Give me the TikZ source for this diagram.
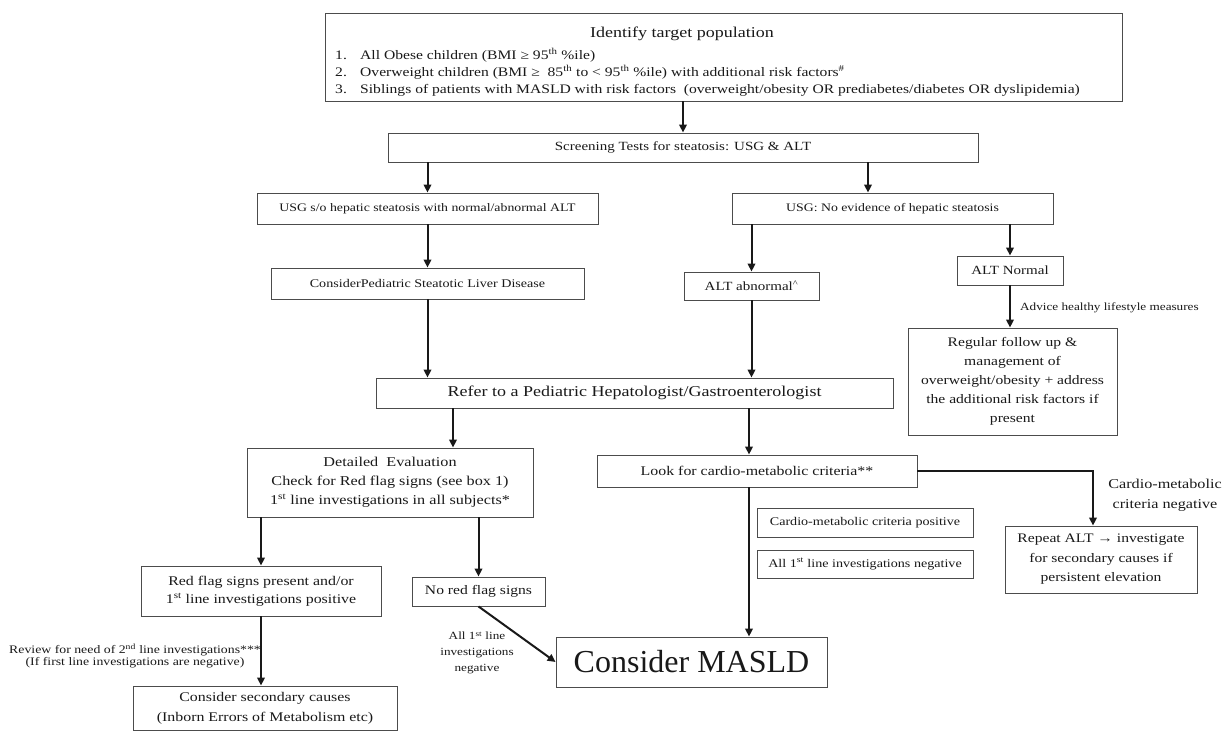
\documentclass[tikz,border=0pt]{standalone}
\usepackage{fontspec}
\setmainfont[FakeStretch=1.2]{Liberation Serif}
\newfontfamily\plainserif{Liberation Serif}
\usetikzlibrary{arrows.meta,calc}
\newcommand{\fsz}[2]{\fontsize{#1}{#2}\selectfont}
\begin{document}
\begin{tikzpicture}[x=1pt,y=-1pt,
  box/.style={draw=black!70, line width=0.9pt, fill=white, inner sep=2pt, align=center, text=black!90},
  arr/.style={line width=2pt, draw=black!90, -{Triangle[length=8pt,width=7.5pt]}},
  lab/.style={align=center, inner sep=0pt, text=black!90}]
\useasboundingbox (0,0) rectangle (1227,732);

% top box
\node[box, minimum width=797pt, minimum height=88pt] (top) at (723.5,57) {};
\node[lab, font=\fsz{15}{18}, anchor=base] (ttl) at (682,37) {Identify target population};
\node[lab, font=\fsz{13}{16}, anchor=base west] (n1) at (335,59) {1.};
\node[lab, font=\fsz{13}{16}, anchor=base west] (i1) at (360,59) {All Obese children (BMI ≥ 95\textsuperscript{th} \%ile)};
\node[lab, font=\fsz{13}{16}, anchor=base west] (n2) at (335,76) {2.};
\node[lab, font=\fsz{13}{16}, anchor=base west] (i2) at (360,76) {Overweight children (BMI ≥ \ 85\textsuperscript{th} to < 95\textsuperscript{th} \%ile) with additional risk factors\textsuperscript{\#}};
\node[lab, font=\fsz{13}{16}, anchor=base west] (n3) at (335,93) {3.};
\node[lab, font=\fsz{13}{16}, anchor=base west] (i3) at (360,93) {Siblings of patients with MASLD with risk factors \ (overweight/obesity OR prediabetes/diabetes OR dyslipidemia)};

\node[box, minimum width=590pt, minimum height=29pt, font=\fsz{12.5}{15}] (screen) at (683,147.5) {Screening Tests for steatosis: USG \& ALT};
\node[box, minimum width=341pt, minimum height=31pt, font=\fsz{11.5}{14}] (usgL) at (427.5,208.5) {USG s/o hepatic steatosis with normal/abnormal ALT};
\node[box, minimum width=321pt, minimum height=31pt, font=\fsz{11.5}{14}] (usgR) at (892.5,208.5) {USG: No evidence of hepatic steatosis};
\node[box, minimum width=313pt, minimum height=31pt, font=\fsz{11.75}{14}] (psld) at (427.5,283.5) {ConsiderPediatric Steatotic Liver Disease};
\node[box, minimum width=135pt, minimum height=28pt, font=\fsz{12.5}{15}] (altab) at (751.5,286) {ALT abnormal\textsuperscript{\^{}}};
\node[box, minimum width=106pt, minimum height=29pt, font=\fsz{12.5}{15}] (altn) at (1010,270.5) {ALT Normal};
\node[box, minimum width=209pt, minimum height=107pt, font=\fsz{13}{19}] (regular) at (1012.5,381.5) {Regular follow up \&\\ management of\\ overweight/obesity + address\\ the additional risk factors if\\ present};
\node[box, minimum width=517pt, minimum height=30pt, font=\fsz{15}{18}] (refer) at (634.5,393) {Refer to a Pediatric Hepatologist/Gastroenterologist};
\node[box, minimum width=286pt, minimum height=69pt, font=\fsz{13.5}{19}] (detailed) at (390,482.5) {Detailed \ Evaluation\\ Check for Red flag signs (see box 1)\\ 1\textsuperscript{st} line investigations in all subjects*};
\node[box, minimum width=320pt, minimum height=32pt, font=\fsz{13.25}{16}] (look) at (757,471) {Look for cardio-metabolic criteria**};
\node[box, minimum width=216pt, minimum height=29pt, font=\fsz{11.75}{14}] (cmpos) at (865,522.5) {Cardio-metabolic criteria positive};
\node[box, minimum width=216pt, minimum height=28pt, font=\fsz{11.75}{14}] (allneg) at (865,564) {All 1\textsuperscript{st} line investigations negative};
\node[box, minimum width=192pt, minimum height=67pt, font=\fsz{13}{19.5}] (repeat) at (1101,559.5) {Repeat ALT → investigate\\ for secondary causes if\\ persistent elevation};
\node[box, minimum width=240pt, minimum height=50pt, font=\fsz{13.25}{18}] (redflag) at (261,591) {Red flag signs present and/or\\ 1\textsuperscript{st} line investigations positive};
\node[box, minimum width=133pt, minimum height=29pt, font=\fsz{13}{15}] (norf) at (478.5,591.5) {No red flag signs};
\node[box, minimum width=271pt, minimum height=50pt, font=\plainserif\fontsize{32}{36}\selectfont] (masld) at (691.5,662) {Consider MASLD};
\node[box, minimum width=264pt, minimum height=44pt, font=\fsz{13.25}{20}] (secondary) at (265,708) {Consider secondary causes\\ (Inborn Errors of Metabolism etc)};

% labels
\node[lab, font=\fsz{11}{13}, anchor=west] (advice) at (1020,308) {Advice healthy lifestyle measures};
\node[lab, font=\fsz{13.5}{20}] (cmneg) at (1165,495) {Cardio-metabolic\\ criteria negative};
\node[lab, font=\fsz{11}{16}] (allfirst) at (477,653) {All 1\textsuperscript{st} line\\ investigations\\ negative};
\node[lab, font=\fsz{11.5}{12.5}] (review) at (135,656) {Review for need of 2\textsuperscript{nd} line investigations***\\ (If first line investigations are negative)};

% helper x positions
\coordinate (xR) at (868,0);
\coordinate (xD) at (453,0);
\coordinate (xL) at (749,0);
\coordinate (xRep) at (1093,0);

% connectors
\draw[arr] (top.south -| screen.north) -- (screen.north);
\draw[arr] (screen.south -| usgL.north) -- (usgL.north);
\draw[arr] (screen.south -| xR) -- (usgR.north -| xR);
\draw[arr] (usgL.south) -- (psld.north);
\draw[arr] (usgR.south -| altab.north) -- (altab.north);
\draw[arr] (usgR.south -| altn.north) -- (altn.north);
\draw[arr] (altn.south) -- (regular.north -| altn.south);
\draw[arr] (psld.south) -- (refer.north -| psld.south);
\draw[arr] (altab.south) -- (refer.north -| altab.south);
\draw[arr] (refer.south -| xD) -- (detailed.north -| xD);
\draw[arr] (refer.south -| xL) -- (look.north -| xL);
\draw[arr] (look.south -| xL) -- (masld.north -| xL);
\draw[arr] (look.east) -| (repeat.north -| xRep);
\draw[arr] (detailed.south -| redflag.north) -- (redflag.north);
\draw[arr] (detailed.south -| norf.north) -- (norf.north);
\draw[arr] (norf.south) -- (masld.west);
\draw[arr] (redflag.south) -- (secondary.north -| redflag.south);
\end{tikzpicture}
\end{document}
